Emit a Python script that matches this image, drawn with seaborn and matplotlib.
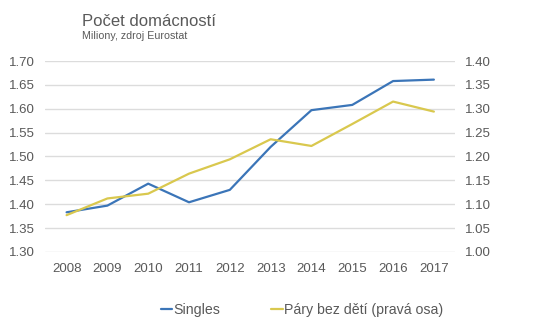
import matplotlib
matplotlib.use("Agg")
import matplotlib.pyplot as plt
import seaborn as sns
import pandas as pd
from matplotlib.lines import Line2D

years = ["2008", "2009", "2010", "2011", "2012", "2013", "2014", "2015", "2016", "2017"]
singles = [1.383, 1.397, 1.443, 1.404, 1.430, 1.520, 1.597, 1.608, 1.658, 1.661]
pary = [1.077, 1.112, 1.122, 1.164, 1.194, 1.236, 1.222, 1.268, 1.315, 1.294]
left_ticks = [1.30, 1.35, 1.40, 1.45, 1.50, 1.55, 1.60, 1.65, 1.70]
right_ticks = [1.00, 1.05, 1.10, 1.15, 1.20, 1.25, 1.30, 1.35, 1.40]

sns.set_theme(style="white")
plt.rcParams["font.family"] = ["Liberation Sans", "DejaVu Sans"]

BLUE = "#3B75B8"
YELLOW = "#D9C84E"
TXT = "#595959"
GRID = "#DCDCDC"

df = pd.DataFrame({"x": range(len(years)), "singles": singles, "pary": pary})

fig = plt.figure(figsize=(5.55, 3.28), dpi=100)
ax = fig.add_axes([0.081, 0.232, 0.739, 0.582])
ax2 = ax.twinx()

sns.lineplot(data=df, x="x", y="singles", ax=ax, color=BLUE, linewidth=1.6)
sns.lineplot(data=df, x="x", y="pary", ax=ax2, color=YELLOW, linewidth=1.6)

ax.set_ylim(1.30, 1.70)
ax2.set_ylim(1.00, 1.40)
ax.set_xlim(-0.53, 9.52)
ax.set_yticks(left_ticks)
ax.set_yticklabels([f"{v:.2f}" for v in left_ticks])
ax2.set_yticks(right_ticks)
ax2.set_yticklabels([f"{v:.2f}" for v in right_ticks])
ax.set_xticks(range(len(years)))
ax.set_xticklabels(years)

for a in (ax, ax2):
    for s in a.spines.values():
        s.set_visible(False)
    a.set_xlabel("")
    a.set_ylabel("")
    a.tick_params(axis="both", length=0, labelsize=9.5, labelcolor=TXT)
ax.tick_params(axis="y", pad=7)
ax2.tick_params(axis="y", pad=7)
ax.tick_params(axis="x", pad=8)

ax.grid(axis="y", color=GRID, linewidth=1)
ax.set_axisbelow(True)

fig.text(82/555, 1 - 26/328, "Počet domácností", fontsize=12, color=TXT, ha="left", va="baseline")
fig.text(82/555, 1 - 39/328, "Miliony, zdroj Eurostat", fontsize=7.7, color=TXT, ha="left", va="baseline")

handles = [Line2D([], [], color=BLUE, linewidth=1.6),
           Line2D([], [], color=YELLOW, linewidth=1.6)]
leg = fig.legend(handles, ["Singles", "Páry bez dětí (pravá osa)"], loc="center",
                 bbox_to_anchor=(0.544, 1 - 310/328), ncol=2, frameon=False,
                 fontsize=10.2, handlelength=0.8, handletextpad=0.1, columnspacing=3.6)
for t in leg.get_texts():
    t.set_color(TXT)

fig.savefig("out.png", dpi=100)
